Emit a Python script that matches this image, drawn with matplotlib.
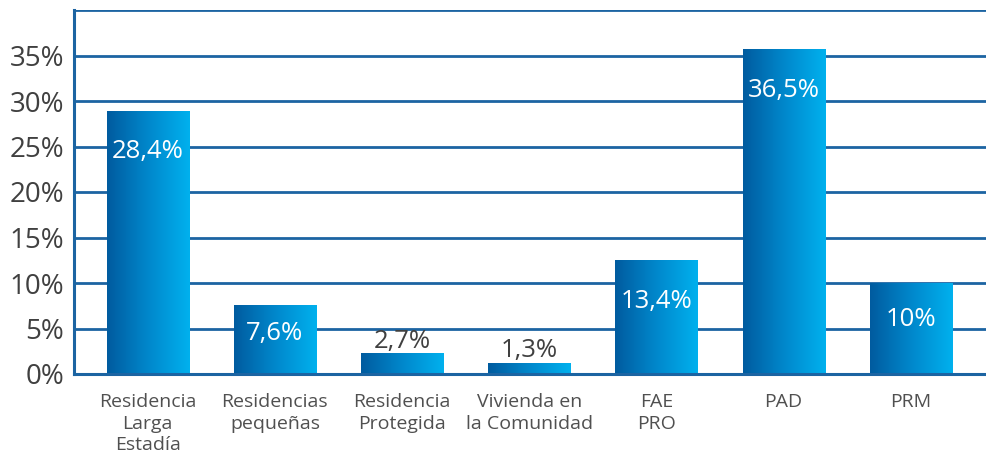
import numpy as np
import matplotlib
matplotlib.use("Agg")
import matplotlib.pyplot as plt
from matplotlib.colors import LinearSegmentedColormap

categories = ["Residencia\nLarga\nEstadía", "Residencias\npequeñas", "Residencia\nProtegida",
              "Vivienda en\nla Comunidad", "FAE\nPRO", "PAD", "PRM"]
heights = [28.9, 7.5, 2.2, 1.2, 12.5, 35.7, 10.0]
labels = ["28,4%", "7,6%", "2,7%", "1,3%", "13,4%", "36,5%", "10%"]
yticks = [0, 5, 10, 15, 20, 25, 30, 35, 40]
ytick_labels = ["0%", "5%", "10%", "15%", "20%", "25%", "30%", "35%", ""]

plt.rcParams['font.family'] = ['Open Sans', 'DejaVu Sans']

line_col = "#1c64a2"
grad = LinearSegmentedColormap.from_list("bar", ["#005b9f", "#0088cc", "#00b1ee"])

fig = plt.figure(figsize=(9.87, 4.54), dpi=100)
ax = fig.add_axes([74 / 987, 1 - 374 / 454, 1 - 74 / 987, (374 - 10) / 454])

x = np.arange(len(categories))
w = 0.645
bars = ax.bar(x, heights, width=w, color="none", zorder=3)
g = np.linspace(0, 1, 256).reshape(1, -1)
for b in bars:
    x0, y0 = b.get_x(), b.get_y()
    ax.imshow(g, cmap=grad, aspect="auto", zorder=3,
              extent=[x0, x0 + b.get_width(), y0, y0 + b.get_height()])

for xi, h, lab in zip(x, heights, labels):
    if h > 5:
        ax.text(xi, max(h - 4.5, h * 0.6), lab, ha="center", va="center",
                color="white", fontsize=18.5, zorder=4)
    else:
        ax.text(xi, h + 0.05, lab, ha="center", va="bottom",
                color="#404040", fontsize=18.5, zorder=4)

ax.set_xlim(-0.58, 6.6)
ax.set_ylim(0, 40)
ax.set_yticks(yticks)
ax.set_yticklabels(ytick_labels, fontsize=20, color="#404040")
ax.set_xticks(x)
ax.set_xticklabels(categories, fontsize=14, color="#505050", linespacing=1.22)
ax.tick_params(axis="both", length=0)
ax.tick_params(axis="y", pad=7)
ax.tick_params(axis="x", pad=14)
ax.yaxis.grid(True, color=line_col, linewidth=2)
ax.set_axisbelow(True)
for s in ["top", "right"]:
    ax.spines[s].set_visible(False)
for s in ["left", "bottom"]:
    ax.spines[s].set_color(line_col)
    ax.spines[s].set_linewidth(2.2)
    ax.spines[s].set_zorder(5)

fig.savefig("out.png", dpi=100)
